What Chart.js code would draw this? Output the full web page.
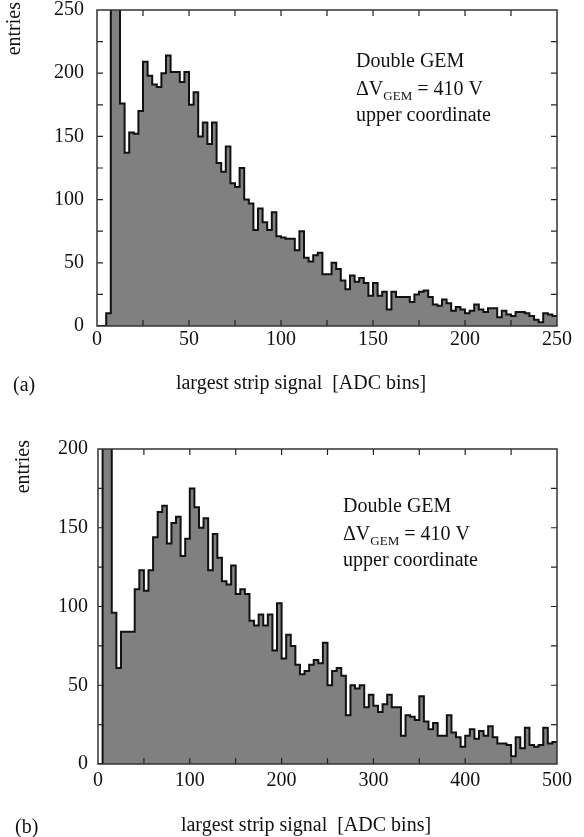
<!DOCTYPE html>
<html><head><meta charset="utf-8">
<script src="https://cdn.jsdelivr.net/npm/chart.js@4.4.1/dist/chart.umd.min.js"></script>
<style>
html,body{margin:0;padding:0;background:#fff;}
#wrap{position:relative;width:584px;height:837px;overflow:hidden;background:#fff;}
canvas{position:absolute;left:0;}
</style></head><body>
<div id="wrap">
<canvas id="cA" style="top:0px" width="584" height="410"></canvas>
<canvas id="cB" style="top:410px" width="584" height="427"></canvas>
</div>
<script>
// ---------- data ----------
// panel (a): bins of 2.5 ADC counts, 0..250
const binWidthA = 2.5;
const countsA = [
  0, 0, 10, 400, 320, 176, 137, 153, 152, 170,
  209, 198, 191, 189, 200, 214, 201, 201, 193, 201,
  175, 185, 150, 161, 144, 161, 129, 122, 142, 113,
  110, 125, 100, 97, 76, 93, 82, 76, 90, 71,
  70, 69, 69, 60, 75, 54, 51, 56, 58, 41,
  41, 50, 45, 36, 29, 40, 35, 38, 34, 24,
  34, 24, 27, 13, 27, 23, 23, 23, 19, 25,
  27, 28, 23, 17, 16, 21, 18, 12, 15, 13,
  10, 12, 17, 13, 11, 14, 14, 7, 12, 9,
  8, 11, 11, 10, 8, 5, 3, 10, 9, 8
];
// panel (b): bins of 5 ADC counts, 0..500
const binWidthB = 5;
const countsB = [
  0, 400, 300, 96, 61, 84, 84, 84, 111, 123,
  110, 123, 144, 160, 164, 140, 153, 157, 132, 143,
  175, 163, 150, 156, 123, 146, 131, 116, 114, 126,
  108, 111, 108, 91, 88, 95, 88, 95, 72, 102,
  67, 82, 75, 63, 57, 59, 63, 66, 64, 77,
  50, 59, 61, 56, 31, 50, 48, 50, 36, 44,
  37, 33, 38, 44, 36, 36, 18, 31, 30, 28,
  43, 27, 22, 26, 18, 18, 31, 20, 17, 11,
  18, 22, 16, 21, 18, 24, 17, 13, 13, 12,
  5, 17, 10, 23, 12, 11, 12, 23, 13, 14
];
// tick labels
const xLabelsA = [0, 50, 100, 150, 200, 250];
const yLabelsA = [0, 50, 100, 150, 200, 250];
const xLabelsB = [0, 100, 200, 300, 400, 500];
const yLabelsB = [0, 50, 100, 150, 200];

const FONT = "'Liberation Serif', 'Times New Roman', serif";
Chart.defaults.font.family = FONT;
Chart.defaults.color = '#111';

function histPoints(counts, w) {
  const pts = counts.map((v, i) => ({x: i * w, y: v}));
  pts.push({x: counts.length * w, y: counts[counts.length - 1]});
  return pts;
}

const framePlugin = {
  id: 'frame',
  afterDatasetsDraw(chart, args, o) {
    const {ctx, chartArea: a, scales: {x, y}} = chart;
    ctx.save();
    // inward tick marks on all four sides
    ctx.strokeStyle = '#222';
    ctx.lineWidth = 1.2;
    const L = 6;
    ctx.beginPath();
    x.ticks.forEach(t => {
      const p = x.getPixelForValue(t.value);
      if (p <= a.left + 1 || p >= a.right - 1) return;
      ctx.moveTo(p, a.bottom); ctx.lineTo(p, a.bottom - L);
      ctx.moveTo(p, a.top); ctx.lineTo(p, a.top + L);
    });
    y.ticks.forEach(t => {
      const p = y.getPixelForValue(t.value);
      if (p <= a.top + 1 || p >= a.bottom - 1) return;
      ctx.moveTo(a.left, p); ctx.lineTo(a.left + L, p);
      ctx.moveTo(a.right, p); ctx.lineTo(a.right - L, p);
    });
    ctx.stroke();
    ctx.lineWidth = 1.5;
    ctx.strokeStyle = '#333';
    ctx.strokeRect(a.left, a.top, a.right - a.left, a.bottom - a.top);

    // texts
    ctx.fillStyle = '#111';
    ctx.font = '20px ' + FONT;
    ctx.textBaseline = 'alphabetic';
    // panel letter
    ctx.textAlign = 'left';
    ctx.fillText(o.panel, o.panelX, o.panelY);
    // x axis title
    ctx.textAlign = 'center';
    ctx.fillText('largest strip signal  [ADC bins]', o.titleX, o.titleY);
    // y axis title (rotated, top aligned)
    ctx.save();
    ctx.translate(o.entX, o.entTop);
    ctx.rotate(-Math.PI / 2);
    ctx.textAlign = 'right';
    ctx.textBaseline = 'middle';
    ctx.fillText('entries', 0, 0);
    ctx.restore();
    // annotation
    ctx.textAlign = 'left';
    ctx.textBaseline = 'alphabetic';
    ctx.font = '20px ' + FONT;
    ctx.fillText('Double GEM', o.noteX, o.noteY[0]);
    let cx = o.noteX;
    ctx.fillText('\u0394V', cx, o.noteY[1]);
    cx += ctx.measureText('\u0394V').width;
    ctx.font = '13px ' + FONT;
    ctx.fillText('GEM', cx, o.noteY[1] + 5);
    cx += ctx.measureText('GEM').width;
    ctx.font = '20px ' + FONT;
    ctx.fillText(' = 410 V', cx, o.noteY[1]);
    ctx.fillText('upper coordinate', o.noteX, o.noteY[2]);
    ctx.restore();
  }
};

function makeChart(canvasId, counts, w, xMax, yMax, xStep, yStep, xLabels, yLabels, lay, texts) {
  return new Chart(document.getElementById(canvasId), {
    type: 'line',
    data: {
      datasets: [{
        data: histPoints(counts, w),
        stepped: true,
        fill: 'origin',
        backgroundColor: '#808080',
        borderColor: '#111',
        borderWidth: 2,
        pointRadius: 0,
        tension: 0,
        clip: 0
      }]
    },
    options: {
      responsive: false,
      animation: false,
      events: [],
      layout: {padding: {left: 0, right: lay.right, top: lay.top, bottom: 0}},
      plugins: {legend: {display: false}, tooltip: {enabled: false}, frame: texts},
      scales: {
        x: {
          type: 'linear', min: 0, max: xMax,
          grid: {display: false, drawTicks: false},
          border: {display: false},
          ticks: {
            stepSize: xStep, autoSkip: false, maxRotation: 0,
            padding: lay.xPad,
            font: {size: 20, family: FONT}, color: '#111',
            callback: v => xLabels.includes(v) ? String(v) : ''
          },
          afterFit(s) { s.height = lay.xH; s.paddingLeft = 0; s.paddingRight = 0; }
        },
        y: {
          type: 'linear', min: 0, max: yMax,
          grid: {display: false, drawTicks: false},
          border: {display: false},
          ticks: {
            stepSize: yStep, autoSkip: false,
            padding: lay.yPad,
            font: {size: 20, family: FONT}, color: '#111',
            callback: v => yLabels.includes(v) ? String(v) : ''
          },
          afterFit(s) { s.width = lay.yW; s.paddingTop = 0; s.paddingBottom = 0; }
        }
      }
    },
    plugins: [framePlugin]
  });
}

makeChart('cA', countsA, binWidthA, 250, 250, 25, 25, xLabelsA, yLabelsA,
  {right: 27, top: 10, xH: 84, yW: 97, xPad: 2, yPad: 13},
  {panel: '(a)', panelX: 13, panelY: 391, titleX: 301, titleY: 389,
   entX: 15, entTop: 2, noteX: 356, noteY: [67, 95, 121]});

makeChart('cB', countsB, binWidthB, 500, 200, 50, 25, xLabelsB, yLabelsB,
  {right: 27, top: 39, xH: 73, yW: 98, xPad: 5, yPad: 10},
  {panel: '(b)', panelX: 15, panelY: 423, titleX: 306, titleY: 421,
   entX: 24, entTop: 30, noteX: 343, noteY: [102, 130, 156]});
</script>
</body></html>
